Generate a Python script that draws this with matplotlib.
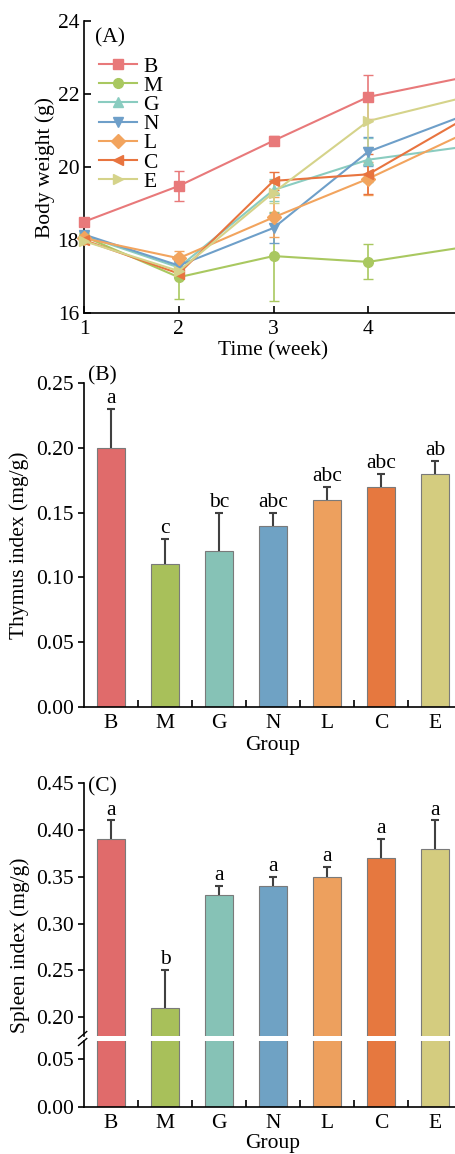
"""
Body weight, thymus index and spleen index by group.
"""

import numpy as np
import matplotlib
matplotlib.use("Agg")
import matplotlib.pyplot as plt
from matplotlib.lines import Line2D

plt.rcParams['font.family'] = ['Liberation Serif', 'DejaVu Serif']
plt.rcParams['font.size'] = 15.5

# data
groups = ['B', 'M', 'G', 'N', 'L', 'C', 'E']
weeks = [1, 2, 3, 4, 5]

weight = {
    'B': [18.50, 19.48, 20.72, 21.92, 22.45],
    'M': [18.10, 16.98, 17.56, 17.40, 17.80],
    'G': [18.12, 17.25, 19.37, 20.20, 20.55],
    'N': [18.15, 17.30, 18.33, 20.42, 21.40],
    'L': [18.05, 17.50, 18.62, 19.68, 20.90],
    'C': [18.00, 17.08, 19.62, 19.80, 21.30],
    'E': [17.97, 17.15, 19.30, 21.26, 21.90],
}
weight_err = {
    'B': [0.05, 0.40, 0.12, 0.60, 0.30],
    'M': [0.08, 0.60, 1.22, 0.48, 0.30],
    'G': [0.10, 0.20, 0.30, 0.60, 0.30],
    'N': [0.10, 0.25, 0.40, 0.40, 0.30],
    'L': [0.10, 0.20, 0.55, 0.45, 0.30],
    'C': [0.05, 0.10, 0.25, 0.55, 0.30],
    'E': [0.08, 0.15, 0.30, 0.70, 0.30],
}
line_markers = ['s', 'o', '^', 'v', 'D', '<', '>']
line_colors = ['#E8797A', '#A9C860', '#8ACCC0', '#6E9FC9', '#F2A45E', '#E8743F', '#D5D38A']

thymus = [0.20, 0.11, 0.12, 0.14, 0.16, 0.17, 0.18]
thymus_err = [0.03, 0.02, 0.03, 0.01, 0.01, 0.01, 0.01]
thymus_letters = ['a', 'c', 'bc', 'abc', 'abc', 'abc', 'ab']

spleen = [0.39, 0.21, 0.33, 0.34, 0.35, 0.37, 0.38]
spleen_err = [0.02, 0.04, 0.01, 0.01, 0.01, 0.02, 0.03]
spleen_letters = ['a', 'b', 'a', 'a', 'a', 'a', 'a']

bar_colors = ['#E06B6B', '#A8C05A', '#86C2B6', '#6FA2C4', '#EDA05E', '#E6783F', '#D4CC7F']

W, H = 455, 1154
fig = plt.figure(figsize=(W / 100, H / 100), dpi=100)


def frac(left, top, right, bottom):
    return [left / W, 1 - bottom / H, (right - left) / W, (bottom - top) / H]


def style_axes(ax):
    for s in ['top', 'right']:
        ax.spines[s].set_visible(False)
    for s in ['left', 'bottom']:
        ax.spines[s].set_linewidth(1.2)


# ---- (A) body weight
axA = fig.add_axes(frac(84, 21, 463, 313))
style_axes(axA)
handles = []
for i, g in enumerate(groups):
    axA.errorbar(weeks, weight[g], yerr=weight_err[g], color=line_colors[i],
                 marker=line_markers[i], markersize=7, linewidth=1.5,
                 capsize=3.5, elinewidth=1.2, clip_on=False, zorder=3)
    handles.append(Line2D([], [], color=line_colors[i], marker=line_markers[i],
                          markersize=7, linewidth=1.5, label=g))
axA.set_xlim(1, 5)
axA.set_ylim(16, 24)
axA.set_xticks([1, 2, 3, 4])
axA.set_yticks([16, 18, 20, 22, 24])
axA.tick_params(direction='in', length=5, width=1.2)
axA.tick_params(axis='x', pad=5)
axA.set_xlabel('Time (week)', labelpad=2)
axA.set_ylabel('Body weight (g)', labelpad=2)
axA.text(0.03, 0.975, '(A)', transform=axA.transAxes, ha='left', va='top')
axA.legend(handles=handles, loc='upper left', bbox_to_anchor=(0.0, 0.93),
           frameon=False, handlelength=1.75, handletextpad=0.3,
           labelspacing=-0.04, borderpad=0.2, fontsize=15.5)

x = np.arange(len(groups))


def bar_panel(ax, vals, errs, letters, offset):
    ax.bar(x, vals, width=0.52, color=bar_colors, edgecolor='#7a7a7a',
           linewidth=0.8, zorder=2)
    _, caps, _ = ax.errorbar(x, vals, yerr=[np.zeros(len(vals)), errs],
                             fmt='none', ecolor='#404040', elinewidth=1.5,
                             capsize=3, capthick=1.5, zorder=3)
    caps[0].set_visible(False)
    for xi, v, e, t in zip(x, vals, errs, letters):
        ax.text(xi, v + e + offset, t, ha='center', va='bottom', fontsize=15.5)
    ax.set_xlim(-0.5, 6.5)


# ---- (B) thymus
axB = fig.add_axes(frac(84, 383, 462, 707))
style_axes(axB)
bar_panel(axB, thymus, thymus_err, thymus_letters, 0.0005)
axB.set_ylim(0, 0.25)
axB.set_yticks(np.arange(0, 0.26, 0.05))
axB.set_yticklabels([f'{v:.2f}' for v in np.arange(0, 0.26, 0.05)])
axB.set_xticks(x)
axB.set_xticklabels(groups)
axB.set_xticks(x[:-1] + 0.5, minor=True)
axB.tick_params(axis='x', which='major', length=0, pad=5)
axB.tick_params(axis='x', which='minor', direction='in', length=5, width=1.2)
axB.tick_params(axis='y', direction='out', length=4, width=1.2)
axB.set_xlabel('Group', labelpad=2)
axB.set_ylabel('Thymus index (mg/g)', labelpad=5)
axB.text(0.01, 1.022, '(B)', transform=axB.transAxes, ha='left', va='center')

# ---- (C) spleen, broken axis
axC1 = fig.add_axes(frac(84, 783, 462, 1036))
axC2 = fig.add_axes(frac(84, 1041, 462, 1107))
for ax in (axC1, axC2):
    style_axes(ax)
    bar_panel(ax, spleen, spleen_err, spleen_letters if ax is axC1 else [''] * 7, 0.001)
axC1.set_ylim(0.18, 0.45)
axC2.set_ylim(0, 0.069)
axC1.spines['bottom'].set_visible(False)
axC1.set_xticks([])
axC1.set_yticks(np.arange(0.20, 0.451, 0.05))
axC1.set_yticklabels([f'{v:.2f}' for v in np.arange(0.20, 0.451, 0.05)])
axC1.tick_params(axis='y', direction='out', length=4, width=1.2)
axC2.set_yticks([0, 0.05])
axC2.set_yticklabels(['0.00', '0.05'])
axC2.tick_params(axis='y', direction='out', length=4, width=1.2)
axC2.set_xticks(x)
axC2.set_xticklabels(groups)
axC2.set_xticks(x[:-1] + 0.5, minor=True)
axC2.tick_params(axis='x', which='major', length=0, pad=5)
axC2.tick_params(axis='x', which='minor', direction='in', length=5, width=1.2)
axC2.set_xlabel('Group', labelpad=1)
axC1.text(0.01, 0.985, '(C)', transform=axC1.transAxes, ha='left', va='center')
fig.text(20 / W, 1 - 945 / H, 'Spleen index (mg/g)', rotation=90,
         ha='center', va='center', fontsize=15.5)

# break marks on the left spine
d = 0.012
kw = dict(transform=fig.transFigure, color='k', linewidth=1.0, clip_on=False)
xs = 84 / W
for yy in (1 - 1035 / H, 1 - 1042 / H):
    fig.add_artist(plt.Line2D([xs - d, xs + d * 0.5], [yy - 0.003, yy + 0.003], **kw))

fig.savefig('out.png', dpi=100)
